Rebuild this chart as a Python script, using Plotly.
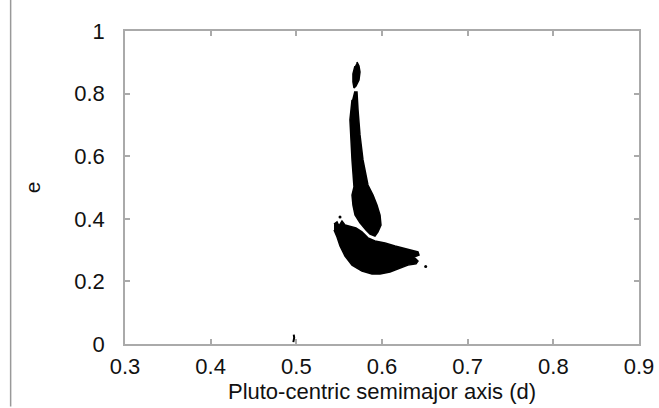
import plotly.graph_objects as go

# Outlines of the dense point clouds (semimajor axis a [d], eccentricity e)
tip_a = [0.5708, 0.5731, 0.5743, 0.5731, 0.5696, 0.5673, 0.5661, 0.5661, 0.5684]
tip_e = [0.901, 0.888, 0.869, 0.843, 0.824, 0.818, 0.837, 0.863, 0.888]

stalk_a = [0.5673, 0.5708, 0.5720, 0.5743, 0.5778, 0.5813, 0.5836, 0.5895, 0.5941, 0.5977,
           0.5988, 0.5953, 0.5918, 0.5860, 0.5813, 0.5743, 0.5685, 0.5661, 0.5650, 0.5673,
           0.5661, 0.5650, 0.5638, 0.5626, 0.5650]
stalk_e = [0.805, 0.805, 0.748, 0.668, 0.588, 0.540, 0.508, 0.476, 0.444, 0.412,
           0.380, 0.358, 0.345, 0.351, 0.364, 0.387, 0.412, 0.444, 0.476, 0.502,
           0.540, 0.588, 0.652, 0.716, 0.780]

lower_a = [0.5440, 0.5475, 0.5498, 0.5533, 0.5568, 0.5626, 0.5696, 0.5766, 0.5836, 0.5918,
           0.6035, 0.6152, 0.6268, 0.6350, 0.6420, 0.6432, 0.6373, 0.6420, 0.6397, 0.6303,
           0.6210, 0.6152, 0.6093, 0.5977, 0.5883, 0.5766, 0.5650, 0.5568, 0.5510, 0.5475,
           0.5440]
lower_e = [0.383, 0.390, 0.377, 0.393, 0.380, 0.377, 0.371, 0.358, 0.339, 0.329,
           0.323, 0.313, 0.304, 0.297, 0.294, 0.284, 0.278, 0.265, 0.256, 0.252,
           0.243, 0.236, 0.230, 0.224, 0.224, 0.233, 0.252, 0.281, 0.313, 0.342,
           0.364]

dots_a = [0.651, 0.551]
dots_e = [0.248, 0.406]

near_half_a = [0.4965, 0.4975, 0.4970]
near_half_e = [0.006, 0.020, 0.030]

x_ticks = [0.3, 0.4, 0.5, 0.6, 0.7, 0.8, 0.9]
x_tick_text = ["0.3", "0.4", "0.5", "0.6", "0.7", "0.8", "0.9"]
y_ticks = [0, 0.2, 0.4, 0.6, 0.8, 1]
y_tick_text = ["0", "0.2", "0.4", "0.6", "0.8", "1"]

fig = go.Figure()
for xa, ye in [(tip_a, tip_e), (stalk_a, stalk_e), (lower_a, lower_e)]:
    fig.add_trace(go.Scatter(x=xa, y=ye, mode="lines", fill="toself",
                             fillcolor="black", line=dict(color="black", width=1.5),
                             hoverinfo="skip", showlegend=False))
fig.add_trace(go.Scatter(x=dots_a, y=dots_e, mode="markers",
                         marker=dict(color="black", size=3), showlegend=False))
fig.add_trace(go.Scatter(x=near_half_a, y=near_half_e, mode="lines",
                         line=dict(color="black", width=2), showlegend=False))

font = "Liberation Sans, Arial, sans-serif"
axis_common = dict(showline=True, linecolor="#aaaaaa", linewidth=1.5, mirror="ticks",
                   ticks="inside", ticklen=5, tickcolor="#aaaaaa", tickwidth=1.5,
                   showgrid=False, zeroline=False, automargin=False,
                   tickfont=dict(family=font, size=22, color="#111111"))

fig.update_layout(
    width=659, height=408,
    margin=dict(l=125, r=20, t=31, b=64),
    paper_bgcolor="white", plot_bgcolor="white",
    xaxis=dict(range=[0.3, 0.9], tickvals=x_ticks, ticktext=x_tick_text,
               title=dict(text="Pluto-centric semimajor axis (d)",
                          font=dict(family=font, size=22, color="#111111"), standoff=0),
               ticklabelstandoff=2, **axis_common),
    yaxis=dict(range=[0, 1], tickvals=y_ticks, ticktext=y_tick_text,
               title=dict(text="e", font=dict(family=font, size=21, color="#111111"),
                          standoff=28),
               ticklabelstandoff=14, **axis_common),
    shapes=[dict(type="line", xref="paper", yref="paper", x0=-0.2225, x1=-0.2225,
                 y0=-0.2, y1=1.1, line=dict(color="#999999", width=1.5))],
)

fig.write_html("out.html", config={"displayModeBar": False},
               post_script="document.body.style.margin='0';document.body.style.overflow='hidden';")
